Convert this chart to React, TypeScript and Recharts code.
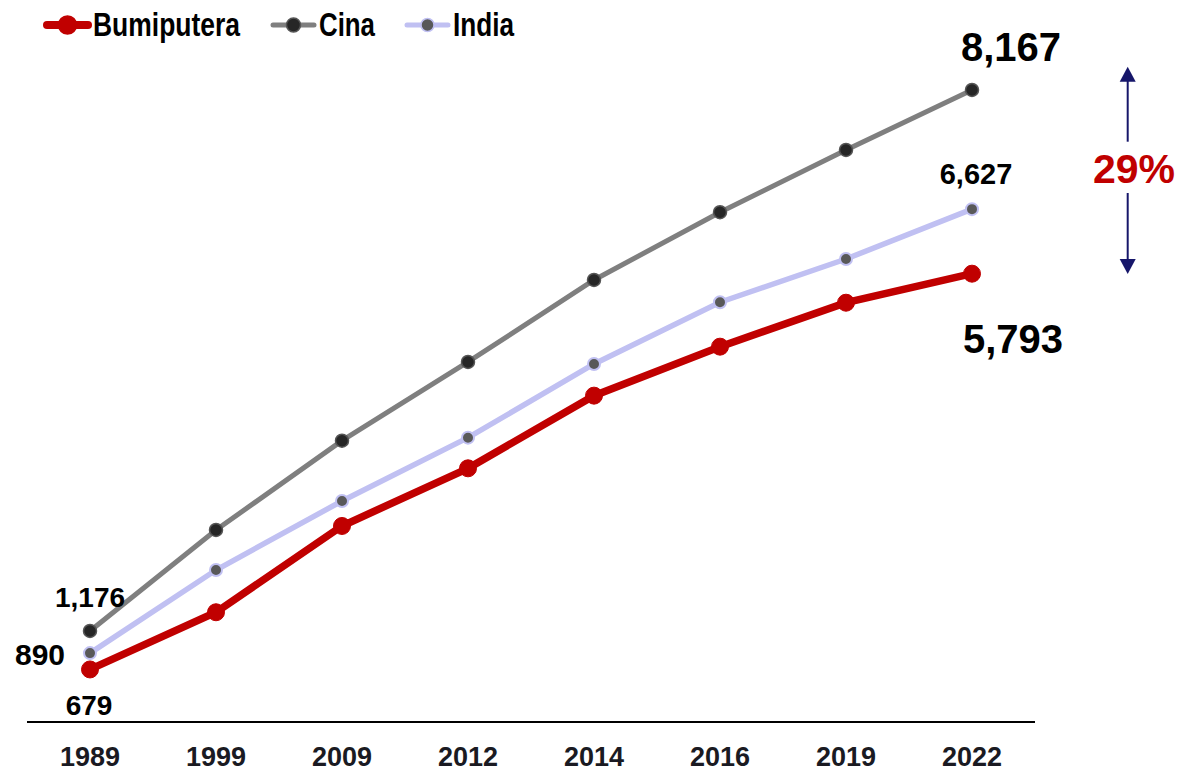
import React from 'react';
import { LineChart, Line, XAxis, YAxis, Legend } from 'recharts';

const YEARS = ['1989', '1999', '2009', '2012', '2014', '2016', '2019', '2022'];
const BUMIPUTERA = [679, 1418, 2533, 3278, 4217, 4850, 5418, 5793];
const CINA = [1176, 2481, 3635, 4652, 5712, 6587, 7392, 8167];
const INDIA = [890, 1964, 2856, 3674, 4626, 5424, 5983, 6627];

const data = YEARS.map((year, i) => ({
  year,
  bumiputera: BUMIPUTERA[i],
  cina: CINA[i],
  india: INDIA[i],
}));

const FONT = '"Liberation Sans", Arial, sans-serif';

const RED = '#c00000';
const GREY = '#7f7f7f';
const LAVENDER = '#c0c0f2';
const NAVY = '#16166a';

// label offsets for first / last point of each series: [dx, dy, fontSize]
const labelCfg: Record<string, { first: number[]; last: number[] }> = {
  bumiputera: { first: [-1, 46, 28], last: [41, 79, 40] },
  cina: { first: [0, -24, 28], last: [39, -29, 40] },
  india: { first: [-50, 12, 30], last: [4, -25, 29] },
};

const endLabel = (key: string) => (props: any) => {
  const { x, y, value, index } = props;
  const last = YEARS.length - 1;
  if (index !== 0 && index !== last) return null;
  const [dx, dy, fs] = index === 0 ? labelCfg[key].first : labelCfg[key].last;
  return (
    <text
      key={`${key}-${index}`}
      x={x + dx}
      y={y + dy}
      textAnchor="middle"
      fontFamily={FONT}
      fontWeight="bold"
      fontSize={fs}
      fill="#000"
    >
      {Number(value).toLocaleString('en-US')}
    </text>
  );
};

const YearTick = (props: any) => {
  const { x, y, payload } = props;
  return (
    <text x={x} y={y + 44} textAnchor="middle" fontFamily={FONT} fontWeight="bold" fontSize={27} fill="#1a1a22">
      {payload.value}
    </text>
  );
};

const legendItems = [
  { name: 'Bumiputera', color: RED, width: 8, r: 9, dotFill: RED, dotStroke: RED, x: 47, textW: 147 },
  { name: 'Cina', color: GREY, width: 5, r: 7, dotFill: '#262626', dotStroke: '#555', x: 273, textW: 56 },
  { name: 'India', color: LAVENDER, width: 5, r: 6.5, dotFill: '#595959', dotStroke: LAVENDER, x: 407, textW: 61 },
];

const LegendContent = () => (
  <svg width={560} height={50}>
    {legendItems.map((it) => (
      <g key={it.name}>
        <line x1={it.x} x2={it.x + 41} y1={25} y2={25} stroke={it.color} strokeWidth={it.width} strokeLinecap="round" />
        <circle cx={it.x + 20.5} cy={25} r={it.r} fill={it.dotFill} stroke={it.dotStroke} strokeWidth={1.5} />
        <text
          x={it.x + 46}
          y={36}
          fontFamily={FONT}
          fontWeight="bold"
          fontSize={33}
          fill="#000"
          textLength={it.textW}
          lengthAdjust="spacingAndGlyphs"
        >
          {it.name}
        </text>
      </g>
    ))}
  </svg>
);

export default function App() {
  return (
    <div style={{ position: 'relative', width: 1180, height: 771 }}>
      <style>{'html,body{margin:0;padding:0;overflow:hidden}'}</style>
      <LineChart width={1180} height={771} data={data} margin={{ top: 25.5, right: 145, bottom: 19, left: 27 }}>
        <XAxis
          dataKey="year"
          axisLine={{ stroke: '#000', strokeWidth: 2 }}
          tickLine={false}
          tickSize={0}
          tickMargin={0}
          tick={<YearTick />}
          interval={0}
          padding={{ left: 63, right: 63 }}
        />
        <YAxis hide domain={[0, 9000]} />
        <Legend
          layout="horizontal"
          verticalAlign="middle"
          align="center"
          content={<LegendContent />}
          wrapperStyle={{ position: 'absolute', top: 0, left: 0, width: 560, height: 50 }}
        />
        <Line
          dataKey="cina"
          name="Cina"
          stroke={GREY}
          strokeWidth={5}
          dot={{ r: 6.5, fill: '#262626', stroke: '#555', strokeWidth: 1.5 }}
          activeDot={false}
          label={endLabel('cina')}
          isAnimationActive={false}
        />
        <Line
          dataKey="india"
          name="India"
          stroke={LAVENDER}
          strokeWidth={5.5}
          dot={{ r: 6, fill: '#595959', stroke: LAVENDER, strokeWidth: 2 }}
          activeDot={false}
          label={endLabel('india')}
          isAnimationActive={false}
        />
        <Line
          dataKey="bumiputera"
          name="Bumiputera"
          stroke={RED}
          strokeWidth={7.5}
          dot={{ r: 8.5, fill: RED, stroke: RED, strokeWidth: 1 }}
          activeDot={false}
          label={endLabel('bumiputera')}
          isAnimationActive={false}
        />
      </LineChart>
      <svg width={1180} height={771} style={{ position: 'absolute', top: 0, left: 0, pointerEvents: 'none' }}>
        <line x1={1127.7} x2={1127.7} y1={78} y2={141.7} stroke={NAVY} strokeWidth={2} />
        <polygon points="1127.7,66.7 1119.7,81.7 1135.7,81.7" fill={NAVY} />
        <line x1={1127.7} x2={1127.7} y1={193} y2={260} stroke={NAVY} strokeWidth={2} />
        <polygon points="1127.7,274 1119.7,259 1135.7,259" fill={NAVY} />
        <text x={1134} y={183} textAnchor="middle" fontFamily={FONT} fontWeight="bold" fontSize={41} fill={RED}>
          29%
        </text>
      </svg>
    </div>
  );
}
